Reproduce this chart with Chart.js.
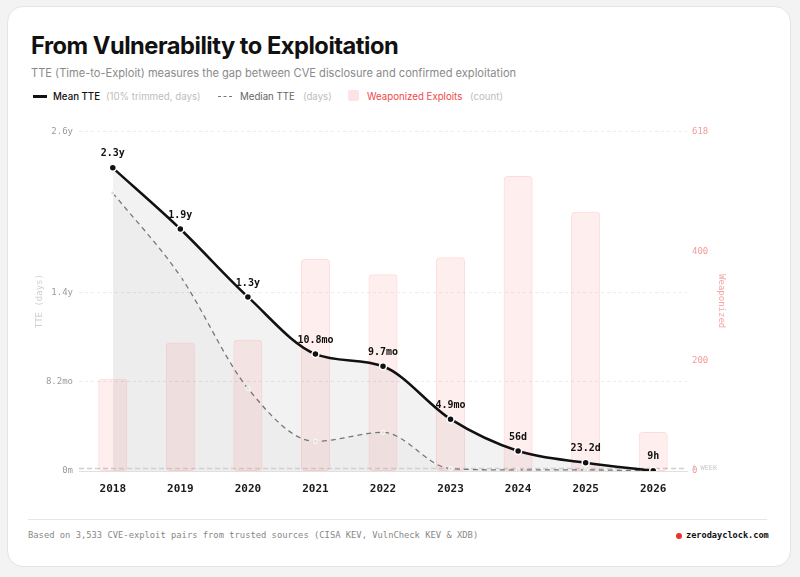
<!DOCTYPE html>
<html><head><meta charset="utf-8">
<script src="https://cdn.jsdelivr.net/npm/chart.js@4.4.1/dist/chart.umd.min.js"></script>
<style>
html,body{margin:0;padding:0;background:#f3f3f3;width:800px;height:577px;overflow:hidden;font-family:Inter,"Noto Sans",sans-serif}
.card{position:absolute;left:7px;top:6px;width:784px;height:561px;background:#fff;border:1px solid #e4e4e4;border-radius:16px;box-sizing:border-box}
.abs{position:absolute;white-space:nowrap}
#title{left:31px;top:31px;font-size:23.7px;font-weight:700;color:#111;letter-spacing:-0.5px;line-height:30px}
#sub{left:31px;top:66px;font-size:11.1px;color:#8a8a8a;line-height:15px}
.lg{top:90px;font-size:9.7px;line-height:13px}
.mono{font-family:"DejaVu Sans Mono",monospace}
#chartwrap{position:absolute;left:20px;top:120px;width:740px;height:380px}
#rule{position:absolute;left:28px;top:519px;width:739px;height:1px;background:#e6e6e6}
</style></head><body>
<div class="card"></div>
<div class="abs" id="title">From Vulnerability to Exploitation</div>
<div class="abs" id="sub">TTE (Time-to-Exploit) measures the gap between CVE disclosure and confirmed exploitation</div>
<div class="abs" style="left:33px;top:95px;width:14px;height:3px;background:#111"></div>
<div class="abs lg" style="left:53px;color:#111;font-weight:500">Mean TTE</div>
<div class="abs lg" style="left:106px;color:#bdbdbd">(10% trimmed, days)</div>
<div class="abs" style="left:218px;top:96px;width:14px;height:0;border-top:1.5px dashed #777"></div>
<div class="abs lg" style="left:240px;color:#666">Median TTE</div>
<div class="abs lg" style="left:303px;color:#bdbdbd">(days)</div>
<div class="abs" style="left:348px;top:90px;width:11px;height:11px;background:#fde3e3;border-radius:2px"></div>
<div class="abs lg" style="left:367px;color:#f04848">Weaponized Exploits</div>
<div class="abs lg" style="left:470px;color:#bdbdbd">(count)</div>
<div id="chartwrap"><canvas id="c"></canvas></div>
<div id="rule"></div>
<div class="abs mono" style="left:28px;top:530px;font-size:8.8px;color:#888">Based on 3,533 CVE-exploit pairs from trusted sources (CISA KEV, VulnCheck KEV &amp; XDB)</div>
<div class="abs" style="left:676px;top:533px;width:6px;height:6px;border-radius:3px;background:#f03030"></div>
<div class="abs mono" style="left:686px;top:530px;font-size:8.6px;color:#111;font-weight:700">zerodayclock.com</div>
<script>
const years = ['2018','2019','2020','2021','2022','2023','2024','2025','2026'];
const meanTTE = [848, 677, 487, 327, 293, 145, 56, 23.2, 0.375];
const meanLabels = ['2.3y','1.9y','1.3y','10.8mo','9.7mo','4.9mo','56d','23.2d','9h'];
const medianTTE = [778, 545, 231, 83, 108, 6.5, 3, 3, 0.3];
const exploits = [168, 234, 239, 386, 358, 389, 537, 472, 71];
const leftTicks = [0, 250, 500, 950];
const leftTickLabels = ['0m', '8.2mo', '1.4y', '2.6y'];
const rightTicks = [0, 200, 400, 618];
const weekDays = 7;
const MONO = '"DejaVu Sans Mono", monospace';

const labelPlugin = {
  id: 'meanLabels',
  afterDatasetsDraw(chart) {
    const meta = chart.getDatasetMeta(0);
    const ctx = chart.ctx;
    ctx.save();
    ctx.font = 'bold 10px ' + MONO;
    ctx.fillStyle = '#111';
    ctx.textAlign = 'center';
    ctx.textBaseline = 'middle';
    meta.data.forEach((p, i) => { ctx.fillText(meanLabels[i], p.x, p.y - 14); });
    ctx.restore();
  }
};
const weekPlugin = {
  id: 'weekLine',
  beforeDatasetsDraw(chart) {
    const y = chart.scales.y.getPixelForValue(weekDays);
    const a = chart.chartArea, ctx = chart.ctx;
    ctx.save();
    ctx.strokeStyle = '#cfcfcf';
    ctx.lineWidth = 1.5;
    ctx.setLineDash([5, 3]);
    ctx.beginPath(); ctx.moveTo(a.left, y); ctx.lineTo(a.right, y); ctx.stroke();
    ctx.restore();
  },
  afterDraw(chart) {
    const y = chart.scales.y.getPixelForValue(weekDays);
    const a = chart.chartArea, ctx = chart.ctx;
    ctx.save();
    ctx.font = '7px ' + MONO;
    ctx.fillStyle = '#c8c8c8';
    ctx.textBaseline = 'middle';
    ctx.fillText('1 WEEK', a.right + 5, y);
    ctx.restore();
  }
};

new Chart(document.getElementById('c'), {
  data: {
    labels: years,
    datasets: [
      { type: 'line', label: 'Mean TTE', data: meanTTE, yAxisID: 'y', order: 1,
        borderColor: '#111', borderWidth: 2.5, cubicInterpolationMode: 'monotone',
        fill: 'origin', backgroundColor: 'rgba(0,0,0,0.05)',
        pointRadius: 3.5, pointBackgroundColor: '#111', pointBorderColor: '#fff', pointBorderWidth: 1.5 },
      { type: 'line', label: 'Median TTE', data: medianTTE, yAxisID: 'y', order: 2,
        borderColor: '#777', borderWidth: 1.3, borderDash: [5, 4], cubicInterpolationMode: 'monotone',
        fill: 'origin', backgroundColor: 'rgba(0,0,0,0.025)',
        pointRadius: 2, pointBackgroundColor: '#ddd', pointBorderColor: '#fff', pointBorderWidth: 1 },
      { type: 'bar', label: 'Weaponized Exploits', data: exploits, yAxisID: 'y1', order: 3,
        backgroundColor: 'rgba(255,90,90,0.10)', borderColor: 'rgba(250,110,110,0.24)', borderWidth: 1,
        borderRadius: 4, borderSkipped: false, categoryPercentage: 1, barPercentage: 0.43 }
    ]
  },
  options: {
    responsive: true, maintainAspectRatio: false, animation: false,
    layout: { padding: { top: 11, right: 33, left: 14, bottom: 0 } },
    plugins: { legend: { display: false }, tooltip: { enabled: false }, filler: { drawTime: 'beforeDatasetsDraw' } },
    scales: {
      x: {
        offset: true,
        grid: { display: false, drawTicks: false },
        border: { color: '#e0e0e0', width: 1 },
        ticks: { color: '#1a1a1a', font: { family: MONO, size: 11, weight: 'bold' }, padding: 12 },
        afterFit(s) { s.height = 29; }
      },
      y: {
        position: 'left', min: 0, max: 950,
        afterBuildTicks(s) { s.ticks = leftTicks.map(v => ({ value: v })); },
        ticks: { color: '#9a9a9a', font: { family: MONO, size: 9 }, padding: 6,
          callback: (v, i) => leftTickLabels[i] },
        grid: { color: '#ececec', drawTicks: false },
        border: { display: false, dash: [3, 3] },
        title: { display: true, text: 'TTE (days)', color: '#cfcfcf', font: { family: MONO, size: 9 }, padding: 0 },
        afterFit(s) { s.width = 45; }
      },
      y1: {
        position: 'right', min: 0, max: 618,
        afterBuildTicks(s) { s.ticks = rightTicks.map(v => ({ value: v })); },
        ticks: { color: '#f59a9a', font: { family: MONO, size: 9 }, padding: 5 },
        grid: { display: false, drawTicks: false },
        border: { display: false },
        title: { display: true, text: 'Weaponized', color: '#f5a5a5', font: { family: MONO, size: 9 }, padding: 0 },
        afterFit(s) { s.width = 40; }
      }
    }
  },
  plugins: [labelPlugin, weekPlugin]
});
</script>
</body></html>
